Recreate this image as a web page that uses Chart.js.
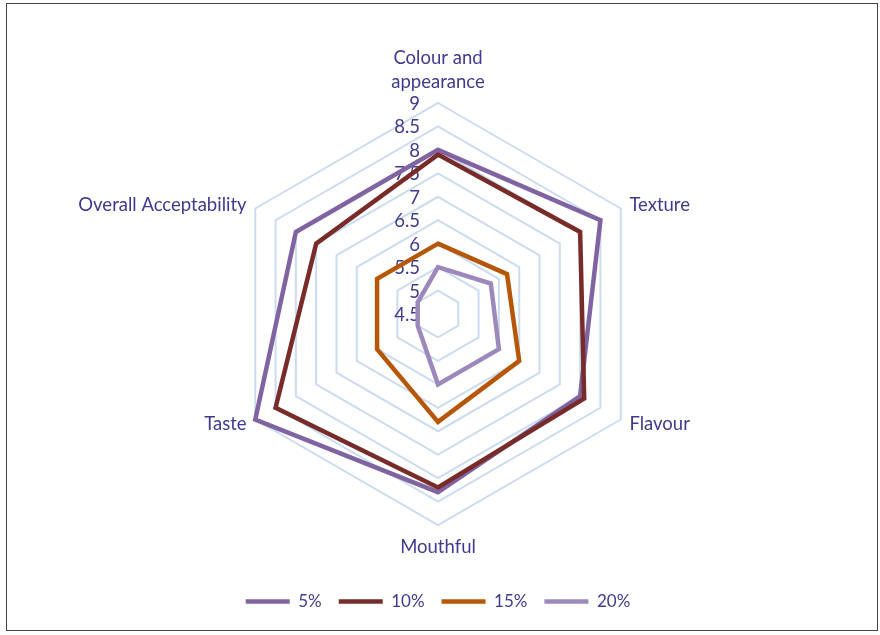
<!DOCTYPE html>
<html>
<head>
<meta charset="utf-8">
<script src="https://cdn.jsdelivr.net/npm/chart.js@4"></script>
<style>
  body { margin: 0; background: #fff; }
  #wrap { position: relative; width: 880px; height: 635px; }
  #frame { position: absolute; left: 6px; top: 3px; width: 872px; height: 628px; border: 1.5px solid #444; box-sizing: border-box; }
  canvas { position: absolute; left: 0; top: 0; }
</style>
</head>
<body>
<div id="wrap">
  <div id="frame"></div>
  <canvas id="radarChart" width="880" height="635"></canvas>
</div>
<script>
// attributes round the hexagon, clockwise from the top
const categories = [['Colour and', 'appearance'], 'Texture', 'Flavour', 'Mouthful', 'Taste', 'Overall Acceptability'];
const seriesNames = ['5%', '10%', '15%', '20%'];
const values5 = [8.0, 8.5, 8.0, 8.3, 9.0, 8.0];
const values10 = [7.9, 8.0, 8.1, 8.2, 8.5, 7.5];
const values15 = [6.0, 6.2, 6.5, 6.8, 6.0, 6.0];
const values20 = [5.5, 5.8, 6.0, 6.0, 5.0, 5.0];
const tickMin = 4.5;
const tickMax = 9;
const tickStep = 0.5;

const textColor = '#3F3A8E';
const colours = ['#8064A2', '#772C2A', '#B65708', '#9D88BC'];

// ticks and axis names are drawn by hand so they sit where Excel puts them
const axisText = {
  id: 'axisText',
  beforeDatasetsDraw(chart) {
    const r = chart.scales.r;
    const ctx = chart.ctx;
    ctx.save();
    ctx.fillStyle = textColor;
    ctx.font = '18.5px Lato';
    ctx.textAlign = 'right';
    ctx.textBaseline = 'middle';
    r.ticks.forEach(t => {
      const y = r.yCenter - r.getDistanceFromCenterForValue(t.value);
      ctx.fillText(String(t.value), r.xCenter - 18, y + 1);
    });

    categories.forEach((lab, i) => {
      const lines = Array.isArray(lab) ? lab : [lab];
      const p = r.getPointPosition(i, r.drawingArea + 10);
      const c = Math.cos(p.angle);
      const s = Math.sin(p.angle);
      ctx.textAlign = Math.abs(c) < 0.01 ? 'center' : (c > 0 ? 'left' : 'right');
      lines.forEach((txt, k) => {
        let y;
        if (Math.abs(c) < 0.01 && s < 0) {
          y = p.y - 11 - 24 * (lines.length - 1 - k);
        } else if (Math.abs(c) < 0.01) {
          y = p.y + 12 + 24 * k;
        } else {
          y = p.y + (s < 0 ? 2 : 0);
        }
        ctx.fillText(txt, p.x, y);
      });
    });
    ctx.restore();
  }
};

const allValues = [values5, values10, values15, values20];

new Chart(document.getElementById('radarChart'), {
  type: 'radar',
  data: {
    labels: categories,
    datasets: allValues.map((vals, i) => ({
      label: seriesNames[i],
      data: vals,
      borderColor: colours[i],
      backgroundColor: 'transparent',
      borderWidth: 4.5,
      borderCapStyle: 'round',
      pointRadius: 0,
      pointHoverRadius: 0,
      fill: false,
      order: allValues.length - i
    }))
  },
  options: {
    responsive: false,
    animation: false,
    layout: { padding: { left: 227, right: 231, top: 52, bottom: 15 } },
    scales: {
      r: {
        min: tickMin,
        max: tickMax,
        ticks: { stepSize: tickStep, display: false },
        grid: { color: '#CCDCF0', lineWidth: 2 },
        angleLines: { display: false },
        pointLabels: { display: false }
      }
    },
    plugins: {
      legend: {
        position: 'bottom',
        labels: {
          usePointStyle: true,
          pointStyle: 'line',
          pointStyleWidth: 44,
          padding: 17,
          color: textColor,
          font: { family: 'Lato', size: 17 },
          sort: (a, b) => a.datasetIndex - b.datasetIndex
        }
      },
      tooltip: { enabled: false }
    }
  },
  plugins: [axisText]
});
</script>
</body>
</html>
